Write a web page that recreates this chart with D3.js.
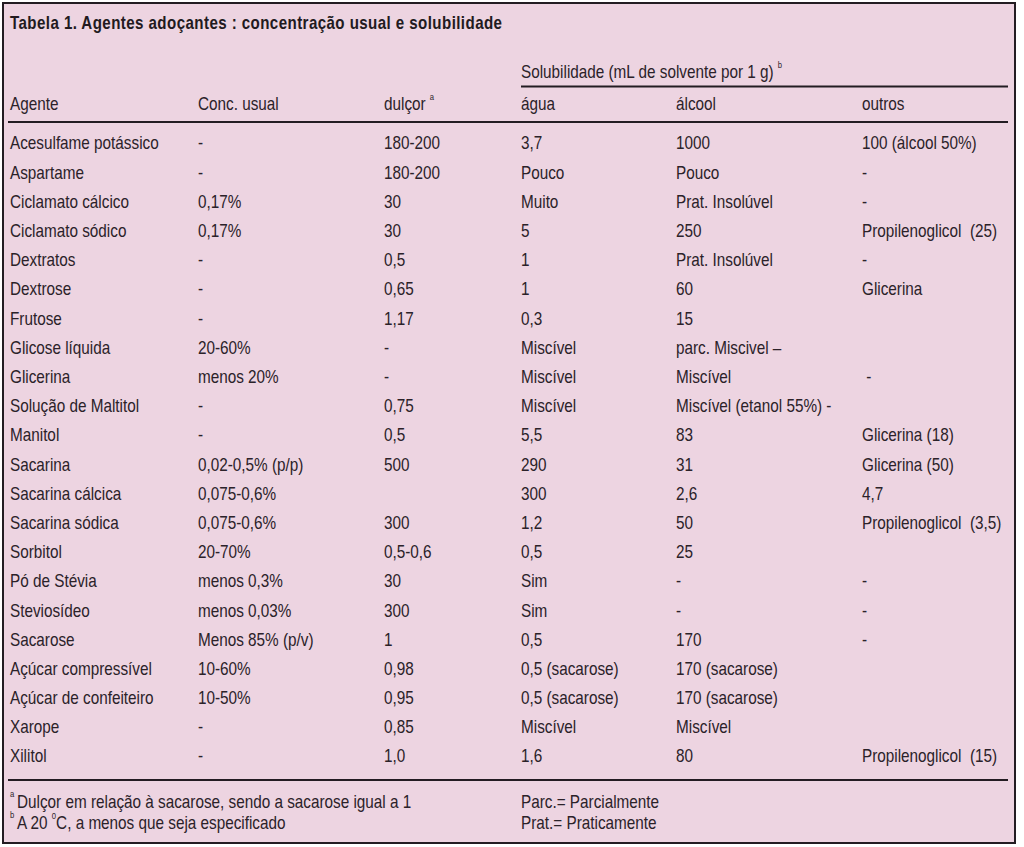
<!DOCTYPE html>
<html><head><meta charset="utf-8">
<script src="https://cdn.jsdelivr.net/npm/d3@7"></script>
<style>
body{margin:0;background:#fff;}
svg text{font-family:"Liberation Sans",Arial,sans-serif;fill:#2b2229;}
</style></head><body>
<svg id="c" width="1024" height="847"></svg>
<script>
const title = "Tabela 1. Agentes adoçantes : concentração usual e solubilidade";
const groupHeader = "Solubilidade (mL de solvente por 1 g)";
const columns = ["Agente","Conc. usual","dulçor","água","álcool","outros"];
const agentes = ["Acesulfame potássico","Aspartame","Ciclamato cálcico","Ciclamato sódico","Dextratos","Dextrose","Frutose","Glicose líquida","Glicerina","Solução de Maltitol","Manitol","Sacarina","Sacarina cálcica","Sacarina sódica","Sorbitol","Pó de Stévia","Steviosídeo","Sacarose","Açúcar compressível","Açúcar de confeiteiro","Xarope","Xilitol"];
const conc = ["-","-","0,17%","0,17%","-","-","-","20-60%","menos 20%","-","-","0,02-0,5% (p/p)","0,075-0,6%","0,075-0,6%","20-70%","menos 0,3%","menos 0,03%","Menos 85% (p/v)","10-60%","10-50%","-","-"];
const dulcor = ["180-200","180-200","30","30","0,5","0,65","1,17","-","-","0,75","0,5","500","","300","0,5-0,6","30","300","1","0,98","0,95","0,85","1,0"];
const agua = ["3,7","Pouco","Muito","5","1","1","0,3","Miscível","Miscível","Miscível","5,5","290","300","1,2","0,5","Sim","Sim","0,5","0,5 (sacarose)","0,5 (sacarose)","Miscível","1,6"];
const alcool = ["1000","Pouco","Prat. Insolúvel","250","Prat. Insolúvel","60","15","parc. Miscivel –","Miscível","Miscível (etanol 55%) -","83","31","2,6","50","25","-","-","170","170 (sacarose)","170 (sacarose)","Miscível","80"];
const outros = ["100 (álcool 50%)","-","-","Propilenoglicol  (25)","-","Glicerina","","",  " -","","Glicerina (18)","Glicerina (50)","4,7","Propilenoglicol  (3,5)","","-","-","-","","","","Propilenoglicol  (15)"];
const footA = "Dulçor em relação à sacarose, sendo a sacarose igual a 1";
const footB1 = "A 20 ", footB2 = "C, a menos que seja especificado";
const footC = "Parc.= Parcialmente", footD = "Prat.= Praticamente";

const svg = d3.select("#c");
const FS = 18, SX = 0.85;
function txt(parent, x, y, size, sx){
  return parent.append("text").attr("transform",`translate(${x},${y}) scale(${sx||SX},1)`)
    .attr("font-size",size).style("white-space","pre");
}
svg.append("rect").attr("x",3).attr("y",3).attr("width",1012).attr("height",840)
  .attr("fill","#edd4e1").attr("stroke","#231c22").attr("stroke-width",2);

const colX = d3.scaleOrdinal().domain(columns).range([10,198,384,521,676,862]);
const rowY = d3.scalePoint().domain(d3.range(agentes.length)).range([143,756]);

txt(svg,10,29,18,0.84).attr("font-weight","bold").attr("letter-spacing",0.5)
  .style("fill","#221a20").text(title);

// group header
const gh = txt(svg,521,77.5,FS);
gh.append("tspan").text(groupHeader);
gh.append("tspan").attr("dx",5).attr("dy",-10).attr("font-size",9).text("b");
svg.append("line").attr("x1",521).attr("x2",1008).attr("y1",86.5).attr("y2",86.5)
  .attr("stroke","#231c22").attr("stroke-width",2);

// column headers
columns.forEach(c=>{
  const t = txt(svg,colX(c),109.5,FS);
  t.append("tspan").text(c);
  if(c==="dulçor") t.append("tspan").attr("dx",5).attr("dy",-10).attr("font-size",9).text("a");
});
svg.append("line").attr("x1",8).attr("x2",1008).attr("y1",122).attr("y2",122)
  .attr("stroke","#231c22").attr("stroke-width",2);

const data = agentes.map((a,i)=>[a,conc[i],dulcor[i],agua[i],alcool[i],outros[i]]);
const rows = svg.append("g").selectAll("g").data(data).join("g")
  .attr("transform",(d,i)=>`translate(0,${rowY(i)})`);
rows.selectAll("text").data(d=>d.map((v,j)=>({v,c:columns[j]}))).join("text")
  .attr("transform",d=>`translate(${colX(d.c)},0) scale(${SX},1)`)
  .attr("dy","0.36em").attr("font-size",FS)
  .style("white-space","pre").text(d=>d.v);

svg.append("line").attr("x1",8).attr("x2",1008).attr("y1",780).attr("y2",780)
  .attr("stroke","#231c22").attr("stroke-width",2);

// footnotes
txt(svg,10,797,9).text("a");
txt(svg,17,808,FS).text(footA);
txt(svg,10,818,9).text("b");
const fb = txt(svg,17,829,FS);
fb.append("tspan").text(footB1);
fb.append("tspan").attr("dy",-10).attr("font-size",9).text("0");
fb.append("tspan").attr("dy",10).text(footB2);
txt(svg,521,808,FS).text(footC);
txt(svg,521,829,FS).text(footD);
</script></body></html>
